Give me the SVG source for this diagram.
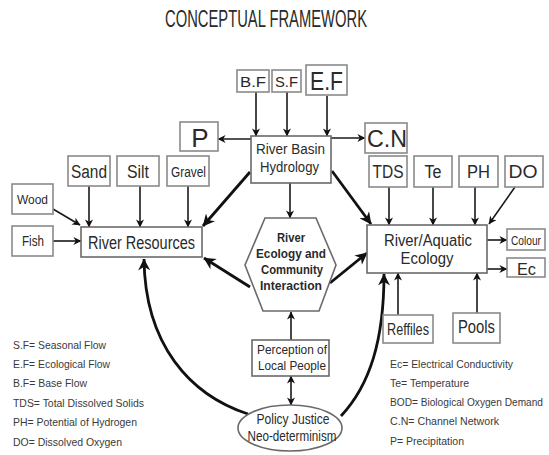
<svg xmlns="http://www.w3.org/2000/svg" width="549" height="455" viewBox="0 0 549 455">
<style>
text{font-family:"Liberation Sans",Arial,sans-serif;fill:#2a2a2a;text-anchor:middle}
.box{fill:#fff;stroke:#8a8a8a;stroke-width:1.6}
.mbox{fill:#fff;stroke:#6a6a6a;stroke-width:1.6}
.ln{fill:none;stroke:#1a1a1a;stroke-width:1.6}
.th{fill:none;stroke:#111;stroke-width:2.8}
.lg{font-size:11px;text-anchor:start;fill:#3a3a3a}
.hx{font-weight:bold;font-size:13px}
</style>
<defs>
<marker id="a" viewBox="0 0 10 10" refX="9.5" refY="5" markerWidth="9" markerHeight="8" markerUnits="userSpaceOnUse" orient="auto-start-reverse"><path d="M0,0 L10,5 L0,10 L3,5z" fill="#111"/></marker>
<marker id="b" viewBox="0 0 10 10" refX="9.5" refY="5" markerWidth="15" markerHeight="12" markerUnits="userSpaceOnUse" orient="auto"><path d="M0,0 L10,5 L0,10 L3,5z" fill="#111"/></marker>
</defs>
<rect width="549" height="455" fill="#fff"/>
<text x="266" y="27" font-size="23" textLength="202" lengthAdjust="spacingAndGlyphs">CONCEPTUAL FRAMEWORK</text>

<g id="connectors">
<path class="ln" marker-end="url(#a)" d="M256,92 V136"/>
<path class="ln" marker-end="url(#a)" d="M287,92 V136"/>
<path class="ln" marker-end="url(#a)" d="M327,96 V136"/>
<path class="ln" marker-end="url(#a)" d="M251,139 H218"/>
<path class="ln" marker-end="url(#a)" d="M331,138 H365"/>
<path class="ln" marker-end="url(#a)" d="M290,183 V218"/>
<path class="th" marker-end="url(#b)" d="M250,172 L203,226"/>
<path class="th" marker-end="url(#b)" d="M332,171 L371,224"/>
<path class="ln" marker-end="url(#a)" d="M89,186 V227"/>
<path class="ln" marker-end="url(#a)" d="M140,186 V227"/>
<path class="ln" marker-end="url(#a)" d="M188,186 V227"/>
<path class="ln" marker-end="url(#a)" d="M53,209 L80,225"/>
<path class="ln" marker-end="url(#a)" d="M53,241 H81"/>
<path class="ln" marker-end="url(#a)" d="M389,187 V225"/>
<path class="ln" marker-end="url(#a)" d="M433,187 V225"/>
<path class="ln" marker-end="url(#a)" d="M475,187 V225"/>
<path class="ln" marker-end="url(#a)" d="M515,187 L489,224"/>
<path class="ln" marker-end="url(#a)" d="M487,240 H507"/>
<path class="ln" marker-end="url(#a)" d="M487,269 H507"/>
<path class="ln" marker-end="url(#a)" d="M398,315 V273"/>
<path class="ln" marker-end="url(#a)" d="M477,313 V273"/>
<path class="th" marker-end="url(#b)" d="M250,287 L204,258"/>
<path class="th" marker-end="url(#b)" d="M330,283 L367,253"/>
<path class="ln" marker-end="url(#a)" d="M291,340 V312"/>
<path class="ln" marker-start="url(#a)" marker-end="url(#a)" d="M291,376 V405"/>
<path class="th" marker-end="url(#b)" d="M248,414 C190,395 145,345 144,259"/>
<path class="th" marker-end="url(#b)" d="M341,416 C370,385 384,340 384,274"/>
</g>

<g id="bf"><rect class="box" x="237" y="70" width="32" height="22"/><text x="253" y="87" font-size="15" textLength="26" lengthAdjust="spacingAndGlyphs">B.F</text></g>
<g id="sf"><rect class="box" x="272" y="70" width="29" height="22"/><text x="286.5" y="87" font-size="15" textLength="23" lengthAdjust="spacingAndGlyphs">S.F</text></g>
<g id="ef"><rect class="box" x="306" y="65" width="41" height="30"/><text x="326.5" y="90" font-size="25" textLength="33" lengthAdjust="spacingAndGlyphs">E.F</text></g>
<g id="p"><rect class="box" x="180" y="122" width="38" height="29"/><text x="200" y="147" font-size="26">P</text></g>
<g id="cn"><rect class="box" x="365" y="123" width="42" height="30"/><text x="387" y="147" font-size="24" textLength="40" lengthAdjust="spacingAndGlyphs">C.N</text></g>
<g id="hydrology"><rect class="mbox" x="251" y="136" width="80" height="47"/><text x="290.5" y="154" font-size="14" textLength="69" lengthAdjust="spacingAndGlyphs">River Basin</text><text x="289.5" y="172" font-size="14" textLength="59" lengthAdjust="spacingAndGlyphs">Hydrology</text></g>

<g id="sand"><rect class="box" x="68" y="156" width="42" height="30"/><text x="89" y="178" font-size="18" textLength="36" lengthAdjust="spacingAndGlyphs">Sand</text></g>
<g id="silt"><rect class="box" x="117" y="156" width="42" height="30"/><text x="138" y="178" font-size="18" textLength="22" lengthAdjust="spacingAndGlyphs">Silt</text></g>
<g id="gravel"><rect class="box" x="167" y="156" width="42" height="30"/><text x="188.5" y="177" font-size="14" textLength="35" lengthAdjust="spacingAndGlyphs">Gravel</text></g>
<g id="wood"><rect class="box" x="12" y="184" width="41" height="30"/><text x="32.5" y="204" font-size="13" textLength="31" lengthAdjust="spacingAndGlyphs">Wood</text></g>
<g id="fish"><rect class="box" x="12" y="226" width="41" height="30"/><text x="33" y="246" font-size="14" textLength="22" lengthAdjust="spacingAndGlyphs">Fish</text></g>
<g id="resources"><rect class="mbox" x="81" y="227" width="121" height="30"/><text x="141.5" y="249" font-size="18" textLength="107" lengthAdjust="spacingAndGlyphs">River Resources</text></g>

<g id="tds"><rect class="box" x="369" y="156" width="38" height="31"/><text x="388" y="178" font-size="18" textLength="31" lengthAdjust="spacingAndGlyphs">TDS</text></g>
<g id="te"><rect class="box" x="414" y="156" width="38" height="31"/><text x="433" y="178" font-size="18" textLength="17" lengthAdjust="spacingAndGlyphs">Te</text></g>
<g id="ph"><rect class="box" x="459" y="156" width="39" height="31"/><text x="478.5" y="178" font-size="18" textLength="23" lengthAdjust="spacingAndGlyphs">PH</text></g>
<g id="do"><rect class="box" x="505" y="156" width="38" height="31"/><text x="523" y="178" font-size="18" textLength="29" lengthAdjust="spacingAndGlyphs">DO</text></g>
<g id="aquatic"><rect class="mbox" x="367" y="225" width="120" height="48"/><text x="428" y="246" font-size="16" textLength="88" lengthAdjust="spacingAndGlyphs">River/Aquatic</text><text x="427" y="264" font-size="16" textLength="53" lengthAdjust="spacingAndGlyphs">Ecology</text></g>
<g id="colour"><rect class="box" x="507" y="229" width="38" height="21"/><text x="526" y="245" font-size="13" textLength="30" lengthAdjust="spacingAndGlyphs">Colour</text></g>
<g id="ec"><rect class="box" x="507" y="258" width="38" height="19"/><text x="526.5" y="275" font-size="17" textLength="19" lengthAdjust="spacingAndGlyphs">Ec</text></g>
<g id="reffiles"><rect class="box" x="383" y="315" width="50" height="28"/><text x="408" y="335" font-size="16" textLength="42" lengthAdjust="spacingAndGlyphs">Reffiles</text></g>
<g id="pools"><rect class="box" x="453" y="313" width="47" height="30"/><text x="476.5" y="333" font-size="18" textLength="37" lengthAdjust="spacingAndGlyphs">Pools</text></g>

<g id="hexagon"><polygon class="mbox" points="265,218 316,218 336,265 319,311 263,311 245,265"/>
<text class="hx" x="291" y="242" textLength="28" lengthAdjust="spacingAndGlyphs">River</text>
<text class="hx" x="291" y="258" textLength="70" lengthAdjust="spacingAndGlyphs">Ecology and</text>
<text class="hx" x="292" y="274" textLength="62" lengthAdjust="spacingAndGlyphs">Community</text>
<text class="hx" x="291" y="290" textLength="62" lengthAdjust="spacingAndGlyphs">Interaction</text></g>
<g id="perception"><rect class="mbox" x="252" y="340" width="77" height="36"/><text x="292" y="354" font-size="13" textLength="70" lengthAdjust="spacingAndGlyphs">Perception of</text><text x="292" y="370" font-size="13" textLength="68" lengthAdjust="spacingAndGlyphs">Local People</text></g>
<g id="policy"><ellipse class="mbox" cx="290" cy="428" rx="52" ry="23"/><text x="293" y="424" font-size="14" textLength="73" lengthAdjust="spacingAndGlyphs">Policy Justice</text><text x="292" y="441" font-size="14" textLength="89" lengthAdjust="spacingAndGlyphs">Neo-determinism</text></g>

<g id="legend-left">
<text class="lg" x="13" y="349" textLength="93" lengthAdjust="spacingAndGlyphs">S.F= Seasonal Flow</text>
<text class="lg" x="13" y="368" textLength="97" lengthAdjust="spacingAndGlyphs">E.F= Ecological Flow</text>
<text class="lg" x="13" y="387" textLength="74" lengthAdjust="spacingAndGlyphs">B.F= Base Flow</text>
<text class="lg" x="13" y="407" textLength="131" lengthAdjust="spacingAndGlyphs">TDS= Total Dissolved Solids</text>
<text class="lg" x="13" y="426" textLength="124" lengthAdjust="spacingAndGlyphs">PH= Potential of Hydrogen</text>
<text class="lg" x="13" y="446" textLength="109" lengthAdjust="spacingAndGlyphs">DO= Dissolved Oxygen</text>
</g>
<g id="legend-right">
<text class="lg" x="390" y="368" textLength="123" lengthAdjust="spacingAndGlyphs">Ec= Electrical Conductivity</text>
<text class="lg" x="390" y="387" textLength="79" lengthAdjust="spacingAndGlyphs">Te= Temperature</text>
<text class="lg" x="390" y="406" font-size="10" textLength="153" lengthAdjust="spacingAndGlyphs">BOD= Biological Oxygen Demand</text>
<text class="lg" x="390" y="425" textLength="109" lengthAdjust="spacingAndGlyphs">C.N= Channel Network</text>
<text class="lg" x="390" y="445" textLength="74" lengthAdjust="spacingAndGlyphs">P= Precipitation</text>
</g>
</svg>
